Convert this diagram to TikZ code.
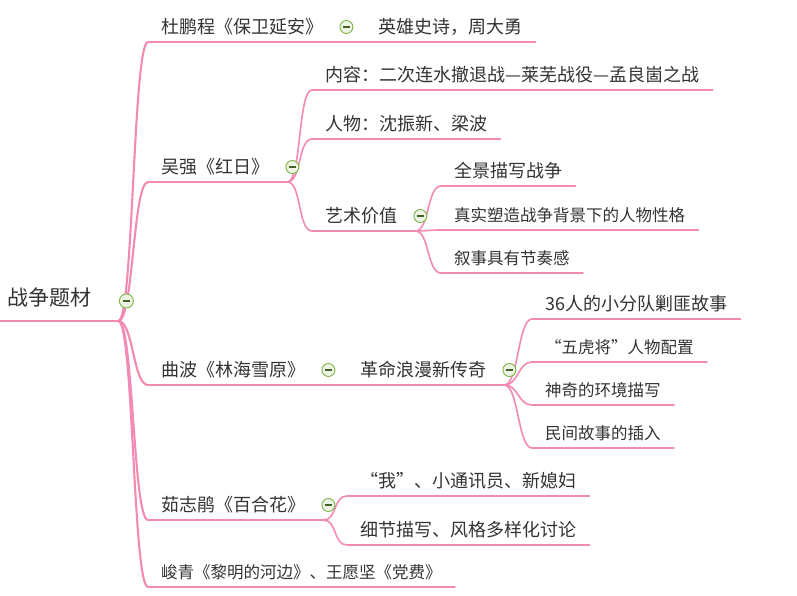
\documentclass[tikz,border=0pt]{standalone}
\usepackage{fontspec}
\setmainfont{Noto Sans CJK SC}
\usepackage{tikz}
\usetikzlibrary{positioning,calc}
\definecolor{MapPink}{HTML}{F28AB3}
\definecolor{MapGreen}{HTML}{7CB342}
\definecolor{MapFold}{HTML}{EDF4E6}
\definecolor{MapText}{HTML}{333333}
\tikzset{
  topic/.style={anchor=south west,inner xsep=13pt,inner ysep=0pt,text height=15pt,text depth=8.5pt,text=MapText,font=\fontsize{18}{21}\selectfont},
  thintopic/.style={topic,font=\fontsize{16.5}{19}\selectfont},
  roottopic/.style={topic,inner xsep=7pt,text height=19pt,text depth=15pt,font=\fontsize{21}{24}\selectfont},
  branch/.style={draw=MapPink,line width=1.6pt,line cap=round},
  trunk/.style={branch,line width=2.1pt},
  mmlink/.style={to path={.. controls +(#1,0) and +(-#1,0) .. (\tikztotarget)}},
  mmlink/.default=14,
  fold/.style={circle,draw=MapGreen,line width=0.9pt,fill=MapFold,minimum size=13pt,inner sep=0pt,
    path picture={\draw[MapGreen!55!black,line width=1.1pt] ([xshift=-3.8pt]path picture bounding box.center) -- ([xshift=3.8pt]path picture bounding box.center);}}
}
\begin{document}
\begin{tikzpicture}[x=1pt,y=-1pt]
\useasboundingbox (0,0) rectangle (797,596);
% central topic
\node[roottopic] (root) at (0,321) {战争题材};
\coordinate (f0) at ([xshift=20pt]root.south east);

% works
\node[topic] (t1) at (148,42) {杜鹏程《保卫延安》};
\node[topic] (t2) at (148,182) {吴强《红日》};
\node[topic] (t3) at (148,385) {曲波《林海雪原》};
\node[topic] (t4) at (148,520) {茹志鹃《百合花》};
\node[thintopic] (t5) at (148,587) {峻青《黎明的河边》、王愿坚《党费》};

% details
\node[topic] (t11) at (365,42) {英雄史诗，周大勇};
\node[topic] (t21) at (312,90) {内容：二次连水撤退战—莱芜战役—孟良崮之战};
\node[topic] (t22) at (312,139) {人物：沈振新、梁波};
\node[topic] (t23) at (312,231) {艺术价值};
\node[topic] (t231) at (441,186) {全景描写战争};
\node[thintopic] (t232) at (441,230) {真实塑造战争背景下的人物性格};
\node[thintopic] (t233) at (441,273) {叙事具有节奏感};
\node[topic] (t31) at (347,385) {革命浪漫新传奇};
\node[topic] (t311) at (532,319) {36人的小分队剿匪故事};
\node[thintopic] (t312) at (532,362) {“五虎将”人物配置};
\node[thintopic] (t313) at (532,405) {神奇的环境描写};
\node[thintopic] (t314) at (532,448) {民间故事的插入};
\node[topic] (t41) at (347,496) {“我”、小通讯员、新媳妇};
\node[topic] (t42) at (347,545) {细节描写、风格多样化讨论};

\foreach \n in {t1,t2,t3,t4,t23,t31}
  \coordinate (f\n) at ([xshift=5pt]\n.south east);

% lines
\draw[trunk] (root.south west) -- (f0);
\foreach \n in {t1,t2,t3,t4,t5}
  \draw[trunk] (f0) to[mmlink=15] (\n.south west);
\foreach \n in {t1,t2,t3,t4,t23,t31}
  \draw[branch] (\n.south west) -- (f\n);
\foreach \n in {t5,t11,t21,t22,t231,t232,t233,t311,t312,t313,t314,t41,t42}
  \draw[branch] (\n.south west) -- (\n.south east);
\draw[branch] (ft1) to[mmlink] (t11.south west);
\foreach \n in {t21,t22,t23}
  \draw[branch] (ft2) to[mmlink] (\n.south west);
\foreach \n in {t231,t232,t233}
  \draw[branch] (ft23) to[mmlink] (\n.south west);
\draw[branch] (ft3) to[mmlink] (t31.south west);
\foreach \n in {t311,t312,t313,t314}
  \draw[branch] (ft31) to[mmlink] (\n.south west);
\foreach \n in {t41,t42}
  \draw[branch] (ft4) to[mmlink] (\n.south west);

% fold markers
\node[fold,minimum size=14pt] (c0) at ([shift={(8,-20)}]f0) {};
\foreach \n in {t1,t2,t3,t4,t23,t31}
  \node[fold] (c\n) at ([shift={(5,-15)}]f\n) {};
\end{tikzpicture}
\end{document}
